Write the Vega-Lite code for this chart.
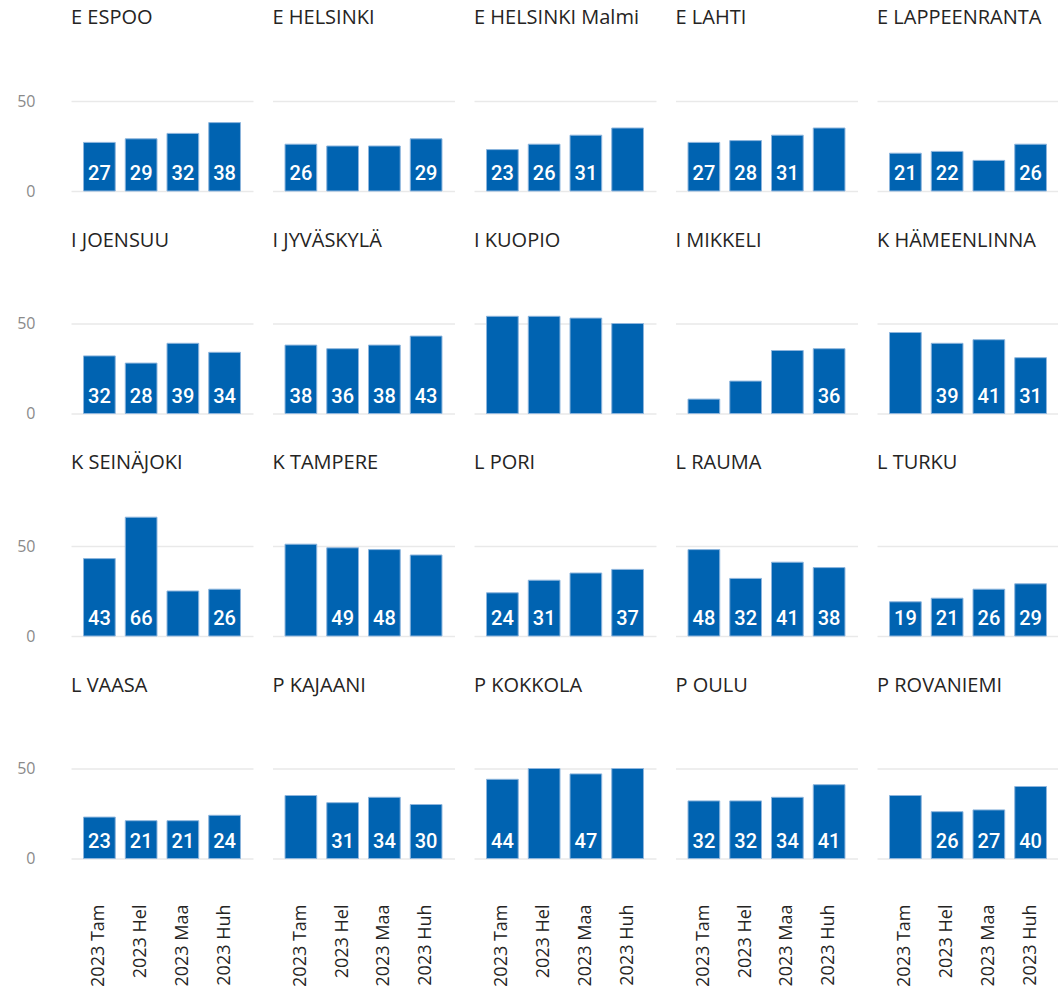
{
  "$schema": "https://vega.github.io/schema/vega-lite/v6.json",
  "padding": {"left": 16, "top": 8, "right": 0, "bottom": 0},
  "autosize": {"type": "pad"},
  "background": "white",
  "data": {"values": [
    {"office": "E ESPOO", "month": "2023 Tam", "value": 27, "shown": true},
    {"office": "E ESPOO", "month": "2023 Hel", "value": 29, "shown": true},
    {"office": "E ESPOO", "month": "2023 Maa", "value": 32, "shown": true},
    {"office": "E ESPOO", "month": "2023 Huh", "value": 38, "shown": true},
    {"office": "E HELSINKI", "month": "2023 Tam", "value": 26, "shown": true},
    {"office": "E HELSINKI", "month": "2023 Hel", "value": 25, "shown": false},
    {"office": "E HELSINKI", "month": "2023 Maa", "value": 25, "shown": false},
    {"office": "E HELSINKI", "month": "2023 Huh", "value": 29, "shown": true},
    {"office": "E HELSINKI Malmi", "month": "2023 Tam", "value": 23, "shown": true},
    {"office": "E HELSINKI Malmi", "month": "2023 Hel", "value": 26, "shown": true},
    {"office": "E HELSINKI Malmi", "month": "2023 Maa", "value": 31, "shown": true},
    {"office": "E HELSINKI Malmi", "month": "2023 Huh", "value": 35, "shown": false},
    {"office": "E LAHTI", "month": "2023 Tam", "value": 27, "shown": true},
    {"office": "E LAHTI", "month": "2023 Hel", "value": 28, "shown": true},
    {"office": "E LAHTI", "month": "2023 Maa", "value": 31, "shown": true},
    {"office": "E LAHTI", "month": "2023 Huh", "value": 35, "shown": false},
    {"office": "E LAPPEENRANTA", "month": "2023 Tam", "value": 21, "shown": true},
    {"office": "E LAPPEENRANTA", "month": "2023 Hel", "value": 22, "shown": true},
    {"office": "E LAPPEENRANTA", "month": "2023 Maa", "value": 17, "shown": false},
    {"office": "E LAPPEENRANTA", "month": "2023 Huh", "value": 26, "shown": true},
    {"office": "I JOENSUU", "month": "2023 Tam", "value": 32, "shown": true},
    {"office": "I JOENSUU", "month": "2023 Hel", "value": 28, "shown": true},
    {"office": "I JOENSUU", "month": "2023 Maa", "value": 39, "shown": true},
    {"office": "I JOENSUU", "month": "2023 Huh", "value": 34, "shown": true},
    {"office": "I JYVÄSKYLÄ", "month": "2023 Tam", "value": 38, "shown": true},
    {"office": "I JYVÄSKYLÄ", "month": "2023 Hel", "value": 36, "shown": true},
    {"office": "I JYVÄSKYLÄ", "month": "2023 Maa", "value": 38, "shown": true},
    {"office": "I JYVÄSKYLÄ", "month": "2023 Huh", "value": 43, "shown": true},
    {"office": "I KUOPIO", "month": "2023 Tam", "value": 54, "shown": false},
    {"office": "I KUOPIO", "month": "2023 Hel", "value": 54, "shown": false},
    {"office": "I KUOPIO", "month": "2023 Maa", "value": 53, "shown": false},
    {"office": "I KUOPIO", "month": "2023 Huh", "value": 50, "shown": false},
    {"office": "I MIKKELI", "month": "2023 Tam", "value": 8, "shown": false},
    {"office": "I MIKKELI", "month": "2023 Hel", "value": 18, "shown": false},
    {"office": "I MIKKELI", "month": "2023 Maa", "value": 35, "shown": false},
    {"office": "I MIKKELI", "month": "2023 Huh", "value": 36, "shown": true},
    {"office": "K HÄMEENLINNA", "month": "2023 Tam", "value": 45, "shown": false},
    {"office": "K HÄMEENLINNA", "month": "2023 Hel", "value": 39, "shown": true},
    {"office": "K HÄMEENLINNA", "month": "2023 Maa", "value": 41, "shown": true},
    {"office": "K HÄMEENLINNA", "month": "2023 Huh", "value": 31, "shown": true},
    {"office": "K SEINÄJOKI", "month": "2023 Tam", "value": 43, "shown": true},
    {"office": "K SEINÄJOKI", "month": "2023 Hel", "value": 66, "shown": true},
    {"office": "K SEINÄJOKI", "month": "2023 Maa", "value": 25, "shown": false},
    {"office": "K SEINÄJOKI", "month": "2023 Huh", "value": 26, "shown": true},
    {"office": "K TAMPERE", "month": "2023 Tam", "value": 51, "shown": false},
    {"office": "K TAMPERE", "month": "2023 Hel", "value": 49, "shown": true},
    {"office": "K TAMPERE", "month": "2023 Maa", "value": 48, "shown": true},
    {"office": "K TAMPERE", "month": "2023 Huh", "value": 45, "shown": false},
    {"office": "L PORI", "month": "2023 Tam", "value": 24, "shown": true},
    {"office": "L PORI", "month": "2023 Hel", "value": 31, "shown": true},
    {"office": "L PORI", "month": "2023 Maa", "value": 35, "shown": false},
    {"office": "L PORI", "month": "2023 Huh", "value": 37, "shown": true},
    {"office": "L RAUMA", "month": "2023 Tam", "value": 48, "shown": true},
    {"office": "L RAUMA", "month": "2023 Hel", "value": 32, "shown": true},
    {"office": "L RAUMA", "month": "2023 Maa", "value": 41, "shown": true},
    {"office": "L RAUMA", "month": "2023 Huh", "value": 38, "shown": true},
    {"office": "L TURKU", "month": "2023 Tam", "value": 19, "shown": true},
    {"office": "L TURKU", "month": "2023 Hel", "value": 21, "shown": true},
    {"office": "L TURKU", "month": "2023 Maa", "value": 26, "shown": true},
    {"office": "L TURKU", "month": "2023 Huh", "value": 29, "shown": true},
    {"office": "L VAASA", "month": "2023 Tam", "value": 23, "shown": true},
    {"office": "L VAASA", "month": "2023 Hel", "value": 21, "shown": true},
    {"office": "L VAASA", "month": "2023 Maa", "value": 21, "shown": true},
    {"office": "L VAASA", "month": "2023 Huh", "value": 24, "shown": true},
    {"office": "P KAJAANI", "month": "2023 Tam", "value": 35, "shown": false},
    {"office": "P KAJAANI", "month": "2023 Hel", "value": 31, "shown": true},
    {"office": "P KAJAANI", "month": "2023 Maa", "value": 34, "shown": true},
    {"office": "P KAJAANI", "month": "2023 Huh", "value": 30, "shown": true},
    {"office": "P KOKKOLA", "month": "2023 Tam", "value": 44, "shown": true},
    {"office": "P KOKKOLA", "month": "2023 Hel", "value": 50, "shown": false},
    {"office": "P KOKKOLA", "month": "2023 Maa", "value": 47, "shown": true},
    {"office": "P KOKKOLA", "month": "2023 Huh", "value": 50, "shown": false},
    {"office": "P OULU", "month": "2023 Tam", "value": 32, "shown": true},
    {"office": "P OULU", "month": "2023 Hel", "value": 32, "shown": true},
    {"office": "P OULU", "month": "2023 Maa", "value": 34, "shown": true},
    {"office": "P OULU", "month": "2023 Huh", "value": 41, "shown": true},
    {"office": "P ROVANIEMI", "month": "2023 Tam", "value": 35, "shown": false},
    {"office": "P ROVANIEMI", "month": "2023 Hel", "value": 26, "shown": true},
    {"office": "P ROVANIEMI", "month": "2023 Maa", "value": 27, "shown": true},
    {"office": "P ROVANIEMI", "month": "2023 Huh", "value": 40, "shown": true}
  ]},
  "facet": {
    "field": "office",
    "type": "nominal",
    "title": null,
    "sort": ["E ESPOO", "E HELSINKI", "E HELSINKI Malmi", "E LAHTI", "E LAPPEENRANTA", "I JOENSUU", "I JYVÄSKYLÄ", "I KUOPIO", "I MIKKELI", "K HÄMEENLINNA", "K SEINÄJOKI", "K TAMPERE", "L PORI", "L RAUMA", "L TURKU", "L VAASA", "P KAJAANI", "P KOKKOLA", "P OULU", "P ROVANIEMI"],
    "header": {
      "labelFont": "Open Sans",
      "labelFontSize": 20,
      "labelColor": "#252423",
      "labelAnchor": "start",
      "labelAlign": "left",
      "labelBaseline": "alphabetic",
      "labelPadding": 3,
      "labelLimit": 0
    }
  },
  "columns": 5,
  "spacing": {"row": 38.5, "column": 19.5},
  "spec": {
    "width": 182,
    "height": 144,
    "encoding": {
      "x": {
        "field": "month",
        "type": "nominal",
        "sort": ["2023 Tam", "2023 Hel", "2023 Maa", "2023 Huh"],
        "title": null,
        "scale": {"paddingInner": 0.24, "paddingOuter": 0.3},
        "axis": {
          "labelAngle": -90,
          "labelAlign": "right",
          "labelBaseline": "middle",
          "labelPadding": 45,
          "ticks": false,
          "domain": false,
          "labelFont": "Open Sans",
          "labelFontSize": 18,
          "labelColor": "#252423"
        }
      },
      "y": {
        "field": "value",
        "type": "quantitative",
        "title": null,
        "scale": {"domain": [0, 80], "nice": false},
        "axis": {
          "values": [0, 50],
          "ticks": false,
          "domain": false,
          "labelPadding": 36,
          "labelFont": "Open Sans",
          "labelFontSize": 16,
          "labelColor": "#8a8a8a",
          "grid": true,
          "gridColor": "#e9e9e9",
          "gridWidth": 1.5
        }
      }
    },
    "layer": [
      {"mark": {"type": "bar", "color": "#0063B1", "stroke": "#8db5dd", "strokeWidth": 1}},
      {
        "transform": [{"filter": "datum.shown"}],
        "mark": {"type": "text", "color": "white", "font": "Roboto", "fontSize": 20, "fontWeight": 500, "baseline": "alphabetic", "align": "center", "dy": -11},
        "encoding": {
          "y": {"datum": 0},
          "text": {"field": "value", "type": "quantitative"}
        }
      }
    ]
  },
  "config": {
    "view": {"stroke": null}
  }
}
